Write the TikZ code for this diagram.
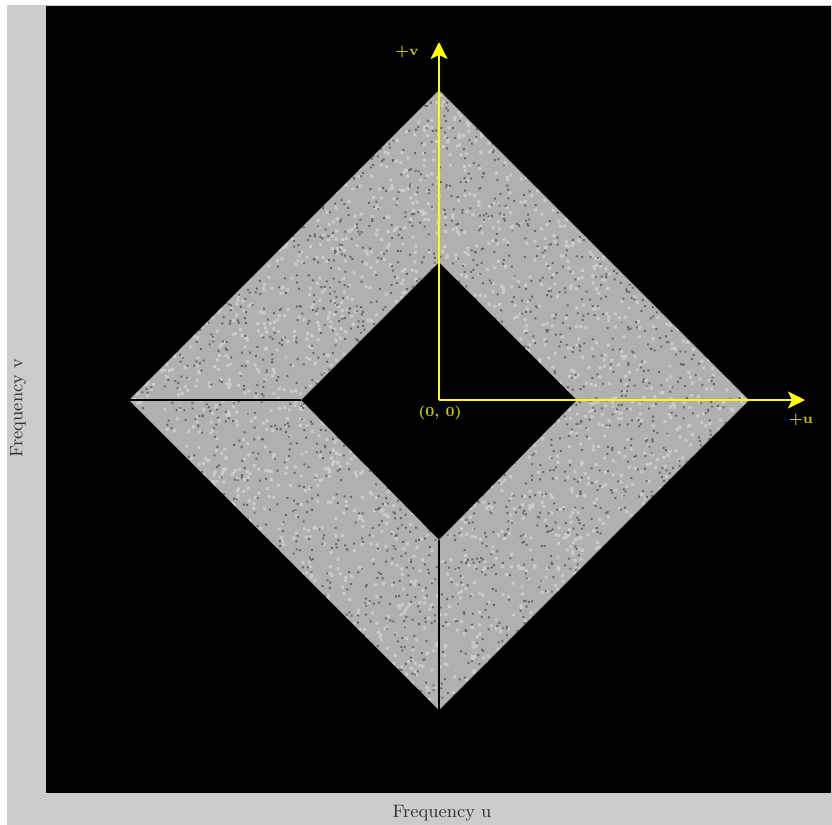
\documentclass[tikz,border=0pt]{standalone}
\usetikzlibrary{arrows.meta}
\definecolor{frameGray}{HTML}{CCCCCC}
\definecolor{bandGray}{HTML}{B0B0B0}
\definecolor{axisYellow}{HTML}{FFFF00}
\definecolor{labelYellow}{HTML}{C8C800}

\begin{document}
\begin{tikzpicture}[x=0.5pt, y=-0.5pt,
    axis/.style={axisYellow, line width=1pt, -{Stealth[length=8.5pt, width=8.5pt, inset=2pt]}},
    axislabel/.style={font=\scriptsize\bfseries, text=labelYellow, inner sep=0pt},
    cut/.style={black, line width=0.8pt},
    caption/.style={font=\small, text=black!80, inner sep=0pt}]
        % Frame and plot area
        \useasboundingbox (0,0) rectangle (832,825);
        \fill[frameGray] (7,5) rectangle (832,825);
        \fill[black] (46,6) rectangle (831,793);

        % Corners of the band
        \coordinate (O) at (439,400);
        \coordinate (outTop) at (439,90);
        \coordinate (outRight) at (749,400);
        \coordinate (outBottom) at (439,710);
        \coordinate (outLeft) at (129,400);
        \coordinate (inTop) at (439,262);
        \coordinate (inRight) at (577,400);
        \coordinate (inBottom) at (439,540);
        \coordinate (inLeft) at (301,400);

        % Noisy diamond band
        \begin{scope}[even odd rule]
          \clip (outTop) -- (outRight) -- (outBottom) -- (outLeft) -- cycle
            (inTop) -- (inRight) -- (inBottom) -- (inLeft) -- cycle;
          \fill[bandGray] (129,90) rectangle (749,710);
          \pgfmathsetseed{7}
          \fill[nonzero rule, white, opacity=0.35]
            \foreach \i in {1,...,3500} { (129+620*rnd, 90+620*rnd) rectangle ++(3,3) };
          \fill[nonzero rule, black, opacity=0.4]
            \foreach \i in {1,...,3500} { (129+620*rnd, 90+620*rnd) rectangle ++(2,2) };
        \end{scope}

        % Seams of the band
        \draw[cut] (outLeft) -- (inLeft);
        \draw[cut] (inBottom) -- (outBottom);

        % Axes
        \coordinate (vTip) at (439,42);
        \coordinate (uTip) at (805,400);
        \draw[axis] (O) -- (vTip);
        \draw[axis] (O) -- (uTip);
        \node[axislabel] (vLabel) at (407,52) {+v};
        \node[axislabel] (uLabel) at (801,420) {+u};
        \node[axislabel] (origin) at (440,413) {(0, 0)};

        % Axis captions
        \node[caption, rotate=90] (freqV) at (18,408) {Frequency v};
        \node[caption] (freqU) at (442,813) {Frequency u};
      \end{tikzpicture}
\end{document}
